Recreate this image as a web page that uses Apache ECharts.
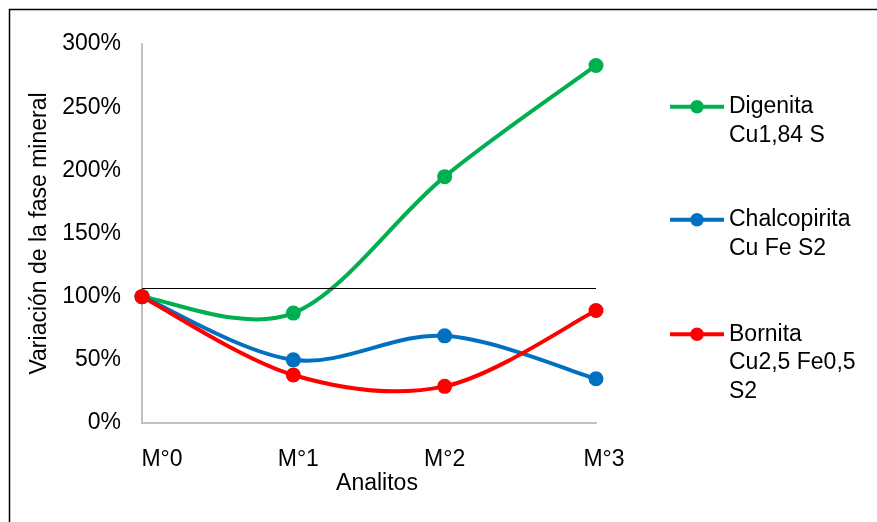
<!DOCTYPE html>
<html>
<head>
<meta charset="utf-8">
<script src="https://cdn.jsdelivr.net/npm/echarts@6/dist/echarts.min.js"></script>
<style>
  html, body { margin: 0; padding: 0; background: #fff; }
  #chart { width: 877px; height: 522px; }
</style>
</head>
<body>
<div id="chart"></div>
<script>
// Muestras analizadas
const categories = ['M°0', 'M°1', 'M°2', 'M°3'];

// Variación (%) de cada fase mineral
const digenita = [100, 87, 195, 283];
const chalcopirita = [100, 50, 69, 35];
const bornita = [100, 38, 29, 89];

// Nombres de las series (fase + fórmula)
const seriesNames = ['Digenita\nCu1,84 S', 'Chalcopirita\nCu Fe S2', 'Bornita\nCu2,5 Fe0,5\nS2'];

// Línea de referencia horizontal
const referenceLevel = 107;

// Marcas del eje Y
const yMin = 0, yMax = 300, yStep = 50;

const FONT = '"Liberation Sans", Arial, sans-serif';
const FS = 23;
const colors = ['#00B050', '#0070C0', '#FF0000'];
const values = [digenita, chalcopirita, bornita];

// Desplazamiento horizontal de cada etiqueta del eje X
const xLabelShift = [40, 10, 0, 16];

const chart = echarts.init(document.getElementById('chart'));

// Leyenda: una por serie, con el icono alineado a la primera línea del texto
const LINE_H = 28.5;
function legendFor(i, top) {
  const lines = seriesNames[i].split('\n').length;
  return {
    data: [seriesNames[i]],
    left: 668,
    top: top,
    padding: 0,
    itemWidth: 54,
    itemHeight: 17,
    selectedMode: false,
    lineStyle: { width: 4, opacity: 1 },
    formatter: name => '\n'.repeat(lines - 1) + name,
    textStyle: {
      fontFamily: FONT,
      fontSize: FS,
      color: '#000',
      lineHeight: LINE_H
    }
  };
}

// Curva suavizada (Bézier tipo Catmull-Rom) calculada con las coordenadas del eje
function curveSeries(vals, color) {
  const n = vals.length;
  return {
    type: 'custom',
    silent: true,
    z: 2,
    data: vals.map((v, i) => [i, v]),
    encode: { x: 0, y: 1 },
    renderItem(params, api) {
      const i = params.dataIndex;
      if (i >= n - 1) return null;
      const P = k => {
        const c = Math.max(0, Math.min(n - 1, k));
        return api.coord([c, vals[c]]);
      };
      const p0 = P(i - 1), p1 = P(i), p2 = P(i + 1), p3 = P(i + 2);
      return {
        type: 'bezierCurve',
        shape: {
          x1: p1[0], y1: p1[1],
          cpx1: p1[0] + (p2[0] - p0[0]) / 6, cpy1: p1[1] + (p2[1] - p0[1]) / 6,
          cpx2: p2[0] - (p3[0] - p1[0]) / 6, cpy2: p2[1] - (p3[1] - p1[1]) / 6,
          x2: p2[0], y2: p2[1]
        },
        style: { stroke: color, lineWidth: 4, fill: null, lineCap: 'round' }
      };
    }
  };
}

const option = {
  backgroundColor: '#fff',
  animation: false,
  color: colors,
  graphic: [{
    type: 'rect',
    left: 7,
    top: 7,
    shape: { width: 900, height: 600 },
    style: { fill: 'none', stroke: '#000', lineWidth: 1.5 },
    silent: true
  }],
  legend: [
    legendFor(0, 64),
    legendFor(1, 177),
    legendFor(2, 263)
  ],
  grid: { left: 142, right: 281, top: 44, bottom: 99 },
  xAxis: {
    type: 'category',
    data: categories,
    boundaryGap: false,
    axisLine: { lineStyle: { color: '#C0C0C0', width: 2 } },
    axisTick: { show: false },
    axisLabel: {
      margin: 25,
      fontFamily: FONT,
      fontSize: FS,
      color: '#000',
      formatter: (v, i) => '{s' + i + '|' + v + '}',
      rich: Object.fromEntries(xLabelShift.map((p, i) => ['s' + i, {
        fontFamily: FONT, fontSize: FS, color: '#000', padding: [0, 0, 0, p]
      }]))
    },
    name: 'Analitos',
    nameLocation: 'middle',
    nameGap: 49,
    nameMoveOverlap: false,
    nameTextStyle: { fontFamily: FONT, fontSize: FS, color: '#000', padding: [0, 0, 0, 16] }
  },
  yAxis: {
    type: 'value',
    min: yMin,
    max: yMax,
    interval: yStep,
    axisLine: { show: true, lineStyle: { color: '#C0C0C0', width: 2 } },
    axisTick: { show: false },
    splitLine: { show: false },
    axisLabel: {
      margin: 21,
      fontFamily: FONT,
      fontSize: FS,
      color: '#000',
      formatter: '{value}%'
    },
    name: 'Variación de la fase mineral',
    nameLocation: 'middle',
    nameRotate: 90,
    nameGap: 91,
    nameMoveOverlap: false,
    nameTextStyle: { fontFamily: FONT, fontSize: FS, color: '#000' }
  },
  series: values.map((v, i) => ({
    name: seriesNames[i],
    type: 'line',
    data: v,
    symbol: 'circle',
    symbolSize: 15,
    lineStyle: { width: 4, color: colors[i], opacity: 0 },
    itemStyle: { color: colors[i] },
    z: 5 + i,
    markLine: i === 0 ? {
      silent: true,
      symbol: 'none',
      label: { show: false },
      lineStyle: { color: '#000', width: 1.2, type: 'solid', opacity: 1 },
      data: [{ yAxis: referenceLevel }]
    } : undefined
  })).concat(values.map((v, i) => curveSeries(v, colors[i])))
};

chart.setOption(option);
</script>
</body>
</html>
